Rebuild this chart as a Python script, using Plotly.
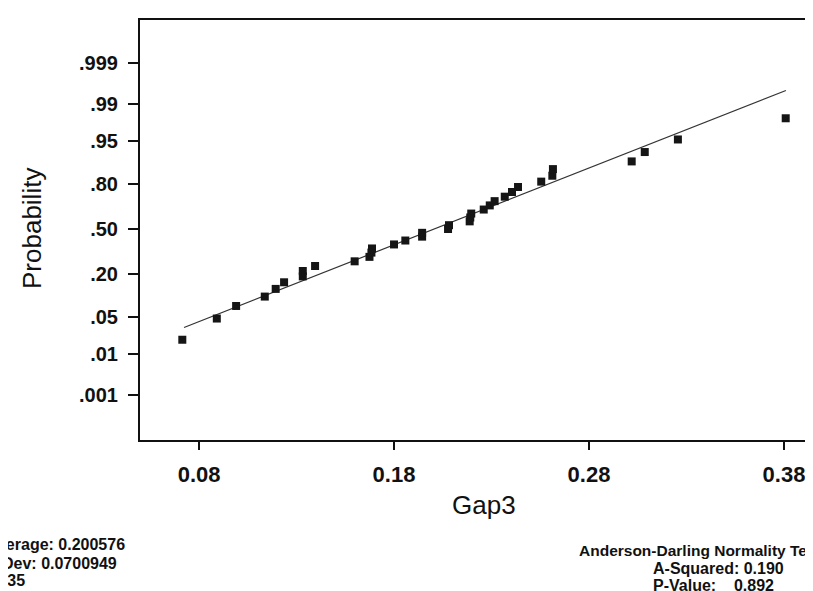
import plotly.graph_objects as go
from statistics import NormalDist

# ---- data ----
gap3 = [0.0714, 0.0891, 0.0990, 0.1137, 0.1193, 0.1236, 0.1332, 0.1332, 0.1395, 0.1598,
        0.1674, 0.1684, 0.1687, 0.1800, 0.1858, 0.1944, 0.1944, 0.2077, 0.2082, 0.2188,
        0.2191, 0.2196, 0.2260, 0.2291, 0.2316, 0.2368, 0.2405, 0.2436, 0.2555, 0.2612,
        0.2615, 0.3019, 0.3086, 0.3256, 0.3809]
mean_val = 0.200576
stdev_val = 0.0700949
line_x = [0.0723, 0.381]
x_ticks = [0.08, 0.18, 0.28, 0.38]
x_tick_labels = ["0.08", "0.18", "0.28", "0.38"]
prob_ticks = [0.999, 0.99, 0.95, 0.80, 0.50, 0.20, 0.05, 0.01, 0.001]
prob_tick_labels = [".999", ".99", ".95", ".80", ".50", ".20", ".05", ".01", ".001"]

nd = NormalDist()
n = len(gap3)
z_pts = [nd.inv_cdf((i - 0.3) / (n + 0.4)) for i in range(1, n + 1)]
z_line = [(x - mean_val) / stdev_val for x in line_x]
z_ticks = [nd.inv_cdf(p) for p in prob_ticks]

W, H = 813, 591
ML, MR, MT, MB = 132, 0, 12, 159
PW, PH = W - ML - MR, H - MT - MB


def px(xp):
    return (xp - ML) / PW


def py(yp):
    return (H - MB - yp) / PH


fig = go.Figure()
fig.add_trace(go.Scatter(x=line_x, y=z_line, mode="lines",
                         line=dict(color="#333333", width=1.2),
                         hoverinfo="skip", showlegend=False))
fig.add_trace(go.Scatter(x=gap3, y=z_pts, mode="markers",
                         marker=dict(symbol="square", size=8, color="#151515"),
                         showlegend=False))

fig.update_layout(
    width=W, height=H,
    margin=dict(l=ML, r=MR, t=MT, b=MB, pad=0),
    paper_bgcolor="white", plot_bgcolor="white",
    font=dict(family="Liberation Sans, Arial, sans-serif", color="#111111"),
    xaxis=dict(range=[0.0497, 0.399], tickvals=x_ticks, ticktext=x_tick_labels,
               ticks="outside", ticklen=8, tickwidth=1.5, tickcolor="#111111",
               showline=True, linewidth=2, linecolor="#111111", mirror=True,
               showgrid=False, zeroline=False, ticklabelstandoff=6,
               tickfont=dict(size=22, family="Liberation Sans, Arial, sans-serif", weight="bold")),
    yaxis=dict(range=[-3.922, 3.885], tickvals=z_ticks, ticktext=prob_tick_labels,
               ticks="outside", ticklen=10, tickwidth=1.5, tickcolor="#111111",
               showline=True, linewidth=2, linecolor="#111111", mirror=False,
               showgrid=False, zeroline=False, ticklabelstandoff=6,
               tickfont=dict(size=20, family="Liberation Sans, Arial, sans-serif", weight="bold")),
)

annots = [
    dict(text="Probability", x=px(24), y=py(220), textangle=-90, xanchor="center", yanchor="middle",
         font=dict(size=26)),
    dict(text="Gap3", x=px(476), y=py(497), xanchor="center", yanchor="middle",
         font=dict(size=26)),
    dict(text="Average: 0.200576", x=px(-24), y=py(536), xanchor="left", yanchor="middle",
         font=dict(size=16, weight="bold")),
    dict(text="StDev: 0.0700949", x=px(-24), y=py(555), xanchor="left", yanchor="middle",
         font=dict(size=16, weight="bold")),
    dict(text="N: 35", x=px(-24), y=py(572), xanchor="left", yanchor="middle",
         font=dict(size=16, weight="bold")),
    dict(text="Anderson-Darling Normality Test", x=px(569), y=py(542), xanchor="left", yanchor="middle",
         font=dict(size=15.5, weight="bold")),
    dict(text="A-Squared: 0.190", x=px(643), y=py(560), xanchor="left", yanchor="middle",
         font=dict(size=16, weight="bold")),
    dict(text="P-Value:&nbsp;&nbsp;&nbsp;&nbsp;0.892", x=px(643), y=py(577), xanchor="left", yanchor="middle",
         font=dict(size=16, weight="bold")),
]
for a in annots:
    a.update(xref="paper", yref="paper", showarrow=False)
fig.update_layout(annotations=annots)

fig.write_html("out.html")
